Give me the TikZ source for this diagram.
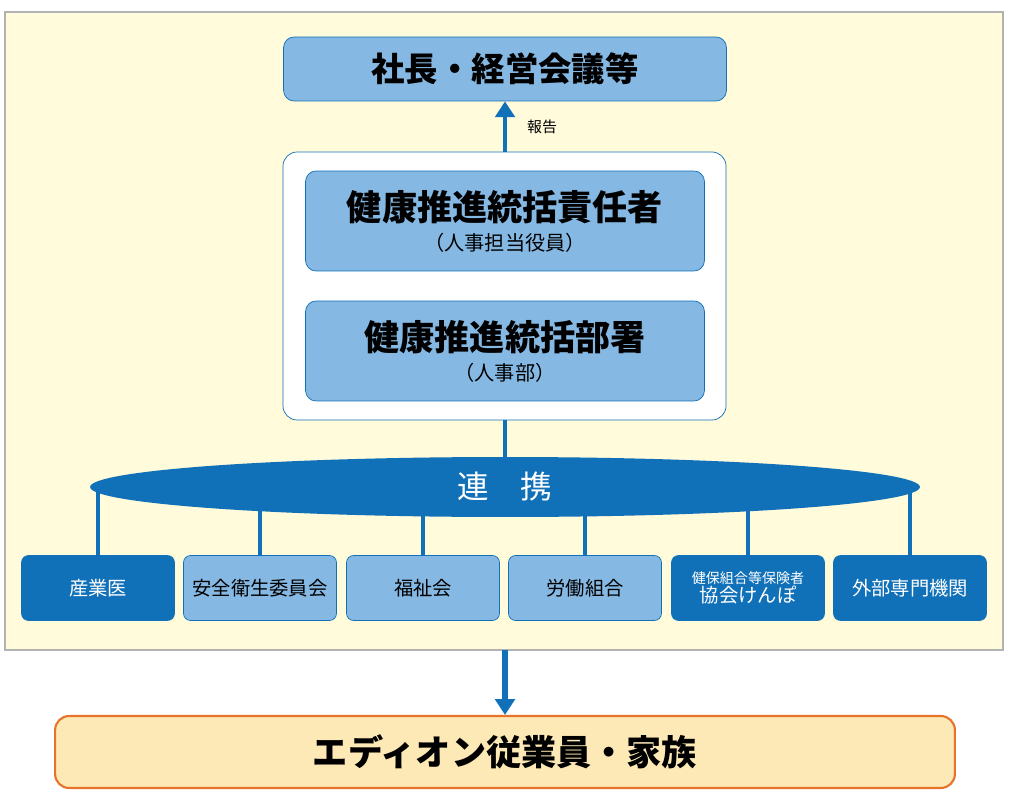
\documentclass[tikz,border=0pt]{standalone}
\usepackage{fontspec}
\newfontfamily\jp{Noto Sans CJK JP}
\usetikzlibrary{shapes.geometric,arrows.meta}
\definecolor{dblue}{HTML}{1070B8}
\definecolor{lblue}{HTML}{85B8E3}
\definecolor{bgyel}{HTML}{FFFBDB}
\definecolor{orfill}{HTML}{FDE9B5}
\definecolor{orline}{HTML}{E8732A}
\tikzset{
  lbox/.style={draw=dblue, fill=lblue, rounded corners=6pt, align=center, font=\jp},
  dbox/.style={draw=dblue, fill=dblue, text=white, rounded corners=4pt, align=center, font=\jp},
  member/.style={minimum width=3.06cm, minimum height=1.3cm, inner sep=0pt},
  link/.style={draw=dblue, line width=2.5pt},
  uparrow/.style={draw=dblue, line width=2.5pt, -{Triangle[length=9pt,width=11pt]}}
}
\begin{document}
\begin{tikzpicture}[x=0.02cm,y=-0.02cm]
\useasboundingbox (0,0) rectangle (1010,800);
% Background frame
\draw[gray!60, fill=bgyel, line width=1pt] (5,12) rectangle (1003,650);

% Top box
\node[lbox, minimum width=8.86cm, minimum height=1.28cm, font=\jp\fontsize{19}{22}\selectfont\bfseries] (top) at (505,69) {社長・経営会議等};

% White frame with two boxes
\draw[dblue, fill=white, rounded corners=8pt] (283,152) rectangle (726,420);
\coordinate (frametop) at (505,152);
\coordinate (framebot) at (505,420);
\node[lbox, minimum width=7.98cm, minimum height=2cm] (chief) at (505,221)
  {{\fontsize{20}{24}\selectfont\bfseries 健康推進統括責任者}\\[5pt]{\fontsize{11.5}{13}\selectfont （人事担当役員）}};
\node[lbox, minimum width=7.98cm, minimum height=2cm] (dept) at (505,351)
  {{\fontsize{20}{24}\selectfont\bfseries 健康推進統括部署}\\[5pt]{\fontsize{11.5}{13}\selectfont （人事部）}};

% Report arrow
\draw[uparrow] (frametop) -- (top.south) node[midway, right=8pt, font=\jp\fontsize{8.5}{10}\selectfont, text=black] {報告};

% Members
\node[dbox, member, font=\jp\fontsize{11}{13}\selectfont] (m1) at (98,588) {産業医};
\node[lbox, member, rounded corners=4pt, font=\jp\fontsize{11}{13}\selectfont] (m2) at (260,588) {安全衛生委員会};
\node[lbox, member, rounded corners=4pt, font=\jp\fontsize{11}{13}\selectfont] (m3) at (423,588) {福祉会};
\node[lbox, member, rounded corners=4pt, font=\jp\fontsize{11}{13}\selectfont] (m4) at (585,588) {労働組合};
\node[dbox, member] (m5) at (748,588) {{\fontsize{8}{9}\selectfont 健保組合等保険者}\\[-1pt]{\fontsize{11}{13}\selectfont 協会けんぽ}};
\node[dbox, member, font=\jp\fontsize{11}{13}\selectfont] (m6) at (910,588) {外部専門機関};
\coordinate (coopc) at (505,487);
\foreach \m in {m1,m2,m3,m4,m5,m6}
  \draw[link] (coopc -| \m.north) -- (\m.north);

% Cooperation ellipse
\node[ellipse, fill=dblue, minimum width=16.6cm, minimum height=1.2cm, text=white,
  font=\jp\fontsize{18}{20}\selectfont] (coop) at (coopc) {連\hspace{1em}携};
\draw[link] (framebot) -- (coop.north);

% Employees
\node[draw=orline, fill=orfill, line width=1.2pt, rounded corners=8pt, minimum width=18cm,
  minimum height=1.44cm, font=\jp\fontsize{20}{24}\selectfont\bfseries] (staff) at (505,752) {エディオン従業員・家族};
\coordinate (framebase) at (505,650);
\draw[uparrow, line width=3pt] (framebase) -- (staff.north);
\end{tikzpicture}
\end{document}
